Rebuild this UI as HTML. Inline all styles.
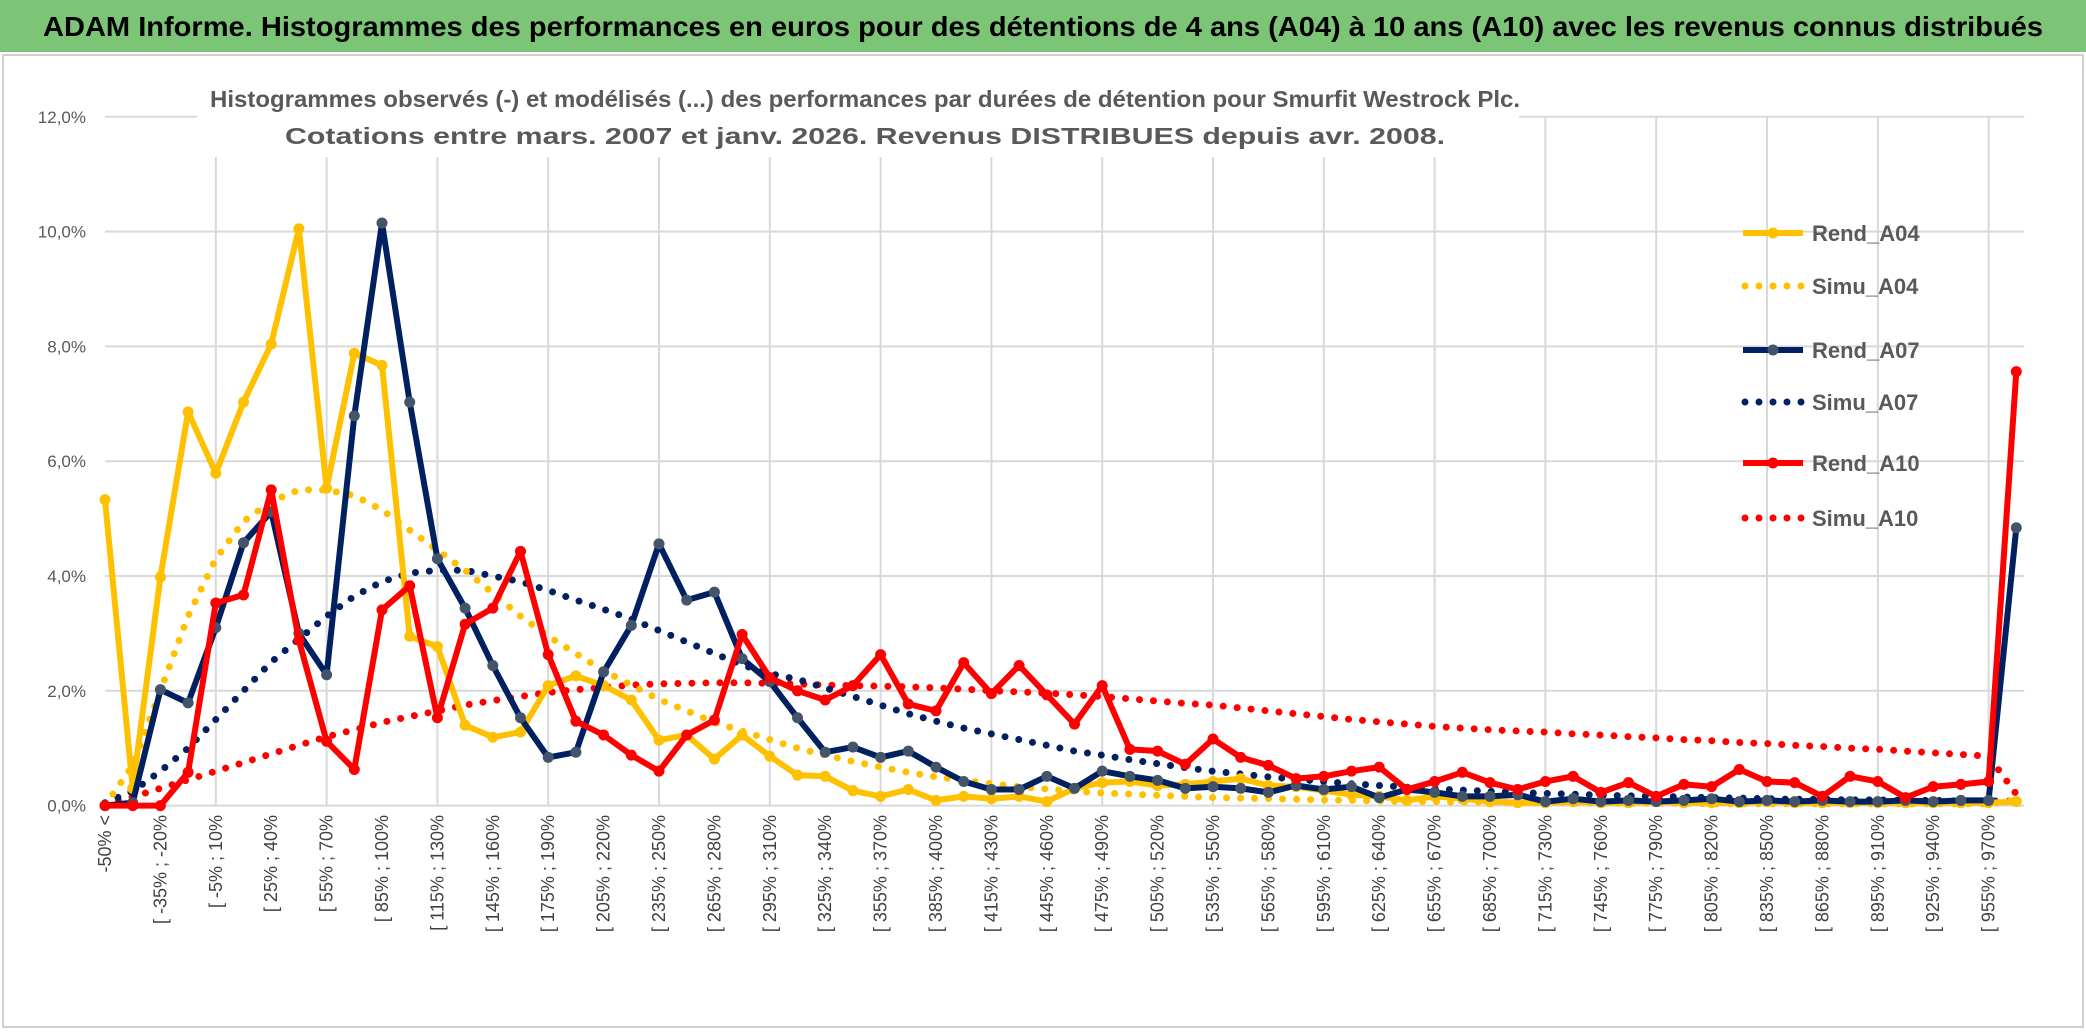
<!DOCTYPE html>
<html><head><meta charset="utf-8"><style>
html,body{margin:0;padding:0;background:#fff;}
body{width:2086px;height:1031px;overflow:hidden;font-family:"Liberation Sans",sans-serif;}
</style></head><body>
<svg id="chart" width="2086" height="1031" xmlns="http://www.w3.org/2000/svg" font-family="Liberation Sans, sans-serif">
<rect x="0" y="0" width="2086" height="1031" fill="#fff"/>
<rect x="0" y="0" width="2086" height="52" fill="#7cc576"/>
<text x="1043" y="36" text-anchor="middle" font-size="28" font-weight="bold" fill="#000" textLength="2000" lengthAdjust="spacingAndGlyphs">ADAM Informe. Histogrammes des performances en euros pour des détentions de 4 ans (A04) à 10 ans (A10) avec les revenus connus distribués</text>
<rect x="3" y="55" width="2080" height="972" fill="none" stroke="#d0d0d0" stroke-width="2"/>
<g id="grid"></g><g id="axes"></g>
<rect x="197" y="77" width="1322" height="80" fill="#fff"/>
<text x="865" y="107" text-anchor="middle" font-size="23" font-weight="bold" fill="#595959" textLength="1310" lengthAdjust="spacingAndGlyphs">Histogrammes observés (-) et modélisés (...) des performances par durées de détention pour Smurfit Westrock Plc.</text>
<text x="865" y="144" text-anchor="middle" font-size="23" font-weight="bold" fill="#595959" textLength="1160" lengthAdjust="spacingAndGlyphs">Cotations entre mars. 2007 et janv. 2026. Revenus DISTRIBUES depuis avr. 2008.</text>
<g id="series"></g><g id="legend"></g>
</svg>
<script>
const categories=["-50% <"];
for(let k=1;k<70;k++){const a=-50+15*(k-1),b=a+15;categories.push("[ "+a+"% ; "+b+"%");}
const yTicks=[0,2,4,6,8,10,12];
const yTickLabels=["0,0%","2,0%","4,0%","6,0%","8,0%","10,0%","12,0%"];
const rendA04=[5.33,0.3,3.98,6.86,5.79,7.03,8.04,10.05,5.53,7.88,7.67,2.95,2.77,1.40,1.19,1.28,2.09,2.26,2.09,1.84,1.14,1.23,0.81,1.23,0.86,0.53,0.51,0.26,0.16,0.28,0.09,0.16,0.12,0.16,0.07,0.3,0.4,0.42,0.35,0.37,0.42,0.47,0.35,0.33,0.26,0.19,0.16,0.09,0.16,0.12,0.07,0.05,0.05,0.07,0.05,0.05,0.07,0.05,0.05,0.05,0.07,0.05,0.05,0.05,0.05,0.05,0.05,0.05,0.05,0.07];
const rendA07=[0,0.05,2.02,1.79,3.1,4.58,5.12,3.0,2.28,6.79,10.15,7.03,4.3,3.44,2.44,1.53,0.84,0.93,2.33,3.14,4.56,3.58,3.72,2.56,2.16,1.53,0.93,1.02,0.84,0.95,0.67,0.42,0.28,0.28,0.51,0.3,0.6,0.51,0.44,0.3,0.33,0.3,0.23,0.35,0.28,0.33,0.14,0.28,0.23,0.16,0.16,0.19,0.07,0.12,0.07,0.09,0.07,0.09,0.12,0.07,0.09,0.07,0.09,0.07,0.07,0.09,0.07,0.09,0.09,4.84];
const rendA10=[0,0,0,0.58,3.53,3.67,5.5,2.88,1.12,0.63,3.41,3.83,1.53,3.16,3.44,4.43,2.63,1.47,1.23,0.88,0.6,1.23,1.49,2.98,2.23,2.0,1.84,2.09,2.63,1.77,1.65,2.49,1.95,2.44,1.93,1.42,2.09,0.98,0.95,0.72,1.16,0.84,0.7,0.47,0.51,0.6,0.67,0.28,0.42,0.58,0.4,0.28,0.42,0.51,0.23,0.4,0.16,0.37,0.33,0.63,0.42,0.4,0.16,0.51,0.42,0.14,0.33,0.37,0.42,7.56];
const simuA04=[0.0,0.7,2.0,3.3,4.3,4.95,5.3,5.5,5.5,5.4,5.15,4.8,4.45,4.1,3.7,3.3,2.95,2.65,2.35,2.1,1.85,1.65,1.45,1.3,1.15,1.0,0.88,0.77,0.67,0.58,0.5,0.44,0.38,0.33,0.29,0.25,0.22,0.2,0.18,0.16,0.14,0.13,0.12,0.11,0.1,0.09,0.08,0.07,0.07,0.06,0.06,0.05,0.05,0.05,0.04,0.04,0.04,0.04,0.03,0.03,0.03,0.03,0.03,0.03,0.03,0.03,0.03,0.03,0.03,0.1];
const simuA07=[0.05,0.25,0.6,1.0,1.5,2.0,2.5,2.9,3.3,3.65,3.9,4.05,4.1,4.1,4.0,3.9,3.75,3.58,3.42,3.25,3.05,2.85,2.65,2.45,2.3,2.2,2.05,1.9,1.75,1.6,1.47,1.35,1.25,1.15,1.05,0.95,0.88,0.8,0.73,0.66,0.6,0.55,0.5,0.46,0.42,0.38,0.35,0.32,0.29,0.27,0.25,0.23,0.21,0.2,0.18,0.17,0.16,0.15,0.14,0.13,0.12,0.11,0.11,0.1,0.1,0.09,0.09,0.08,0.08,0.08];
const simuA10=[0.02,0.15,0.3,0.45,0.6,0.75,0.9,1.05,1.2,1.32,1.45,1.55,1.65,1.75,1.83,1.9,1.97,2.02,2.06,2.1,2.12,2.13,2.14,2.14,2.13,2.12,2.1,2.09,2.08,2.07,2.05,2.03,2.0,1.98,1.96,1.93,1.9,1.86,1.82,1.78,1.75,1.7,1.65,1.6,1.55,1.5,1.46,1.42,1.38,1.35,1.32,1.3,1.28,1.25,1.23,1.2,1.18,1.15,1.13,1.1,1.08,1.05,1.03,1.0,0.98,0.95,0.92,0.89,0.86,0.2];
const seriesNames=["Rend_A04","Simu_A04","Rend_A07","Simu_A07","Rend_A10","Simu_A10"];

const NS="http://www.w3.org/2000/svg";
const X0=105,STEP=27.7,Y0=805.6,YS=57.4;
function xPos(i){return X0+STEP*i;}
function yPos(v){return Y0-YS*v;}
function mk(tag,attrs,parent){const e=document.createElementNS(NS,tag);for(const k in attrs)e.setAttribute(k,attrs[k]);parent.appendChild(e);return e;}
const grid=document.getElementById('grid'),axes=document.getElementById('axes'),ser=document.getElementById('series'),leg=document.getElementById('legend');
const xEnd=xPos(categories.length-1);
yTicks.forEach((t,k)=>{
 const l=mk('line',{x1:X0,x2:xEnd+8,y1:yPos(t),y2:yPos(t),stroke:'#d9d9d9','stroke-width':2},grid);
 
 
 const tx=mk('text',{x:86,y:yPos(t)+6,'text-anchor':'end','font-size':17,fill:'#595959'},axes);
 tx.textContent=yTickLabels[k];
 
 
});
for(let i=4;i<categories.length;i+=4){
 const l=mk('line',{x1:xPos(i),x2:xPos(i),y1:yPos(12),y2:Y0,stroke:'#d9d9d9','stroke-width':2},grid);
 
 
}
categories.forEach((c,i)=>{
 if(i%2)return;
 const x=xPos(i)+6,y=815;
 const t=mk('text',{x:x,y:y,'text-anchor':'end','font-size':18,fill:'#404040',transform:`rotate(-90 ${x} ${y})`},axes);
 t.textContent=c;
 
 
});
function pts(arr){return arr.map((v,i)=>xPos(i).toFixed(1)+','+yPos(v).toFixed(1)).join(' ');}
function dotted(arr,color,name){
 const p=mk('polyline',{points:pts(arr),fill:'none',stroke:color,'stroke-width':7,'stroke-linecap':'round','stroke-dasharray':'0 14'},ser);
 
 
}
function solid(arr,color,mcolor,name){
 const p=mk('polyline',{points:pts(arr),fill:'none',stroke:color,'stroke-width':6,'stroke-linejoin':'round'},ser);
 
 
 arr.forEach((v,i)=>{
  const c=mk('circle',{cx:xPos(i),cy:yPos(v),r:5.5,fill:mcolor},ser);
  
  
 });
}
dotted(simuA10,'#ff0000','simu-a10-line');
dotted(simuA07,'#002060','simu-a07-line');
dotted(simuA04,'#ffc000','simu-a04-line');
solid(rendA04,'#ffc000','#ffc000','rend-a04-line');
solid(rendA07,'#002060','#44546a','rend-a07-line');
solid(rendA10,'#ff0000','#ff0000','rend-a10-line');
const legY=[233,286,350,402,463,518];
const legCol=['#ffc000','#ffc000','#002060','#002060','#ff0000','#ff0000'];
seriesNames.forEach((n,k)=>{
 const y=legY[k];
 const g=mk('g',{},leg);
 
 
 if(k%2===0){
  mk('line',{x1:1743,x2:1803,y1:y,y2:y,stroke:legCol[k],'stroke-width':6},g);
  mk('circle',{cx:1773,cy:y,r:5.5,fill:k===2?'#44546a':legCol[k]},g);
 } else {
  mk('line',{x1:1745,x2:1803,y1:y,y2:y,stroke:legCol[k],'stroke-width':7,'stroke-linecap':'round','stroke-dasharray':'0 14'},g);
 }
 const t=mk('text',{x:1812,y:y+8,'font-size':22,'font-weight':'bold',fill:'#595959'},g);
 t.textContent=n;
});
</script>
</body></html>
